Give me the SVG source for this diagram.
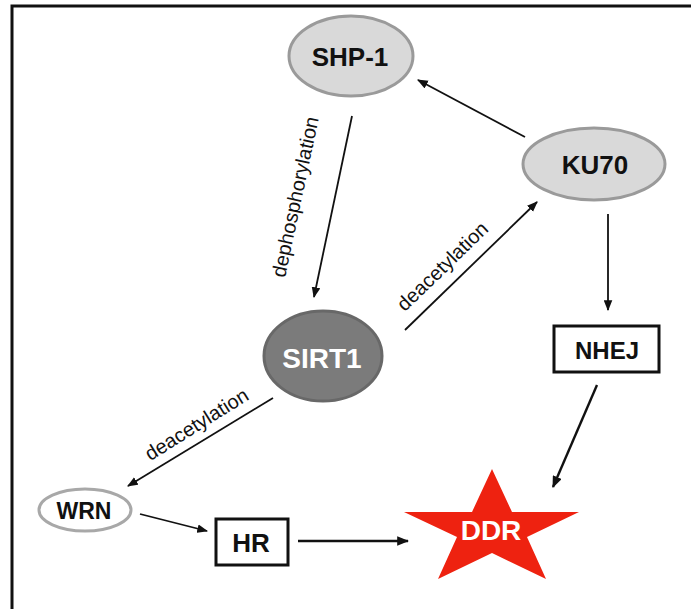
<svg xmlns="http://www.w3.org/2000/svg" width="691" height="609" viewBox="0 0 691 609">
<defs>
<style>
.lbl{font-family:"Liberation Sans",Arial,Helvetica,sans-serif;font-weight:bold;text-anchor:middle;dominant-baseline:central}
.edge{font-family:"Liberation Sans",Arial,Helvetica,sans-serif;font-size:20px;fill:#111;text-anchor:middle}
.conn{stroke:#111;stroke-width:1.8;fill:none;marker-end:url(#ah)}
.conn2{stroke:#111;stroke-width:2.4;fill:none;marker-end:url(#ah2)}
.box{fill:#fff;stroke:#111;stroke-width:3}
.oval{fill:#d9d9d9;stroke:#9a9a9a;stroke-width:3}
</style>
<marker id="ah" viewBox="0 0 10 8" refX="9" refY="4" markerWidth="6" markerHeight="5" orient="auto" markerUnits="strokeWidth">
<path d="M0,0 L10,4 L0,8 Z" fill="#111"/>
</marker>
<marker id="ah2" viewBox="0 0 10 8" refX="9" refY="4" markerWidth="5" markerHeight="4" orient="auto" markerUnits="strokeWidth">
<path d="M0,0 L10,4 L0,8 Z" fill="#111"/>
</marker>
</defs>
<rect width="691" height="609" fill="#fff"/>
<path d="M12,609 L12,6 L691,6" fill="none" stroke="#111" stroke-width="3"/>

<g id="connectors">
<line class="conn" x1="525" y1="137" x2="418" y2="80"/>
<line class="conn" x1="352" y1="116" x2="314" y2="297"/>
<line class="conn" x1="405" y1="330" x2="537" y2="202"/>
<line class="conn" x1="608" y1="214" x2="608" y2="310"/>
<line class="conn2" x1="597" y1="385" x2="553" y2="487"/>
<line class="conn" x1="273" y1="398" x2="128" y2="486"/>
<line class="conn" x1="140" y1="514" x2="207" y2="531"/>
<line class="conn2" x1="298" y1="541" x2="408" y2="541"/>
<text class="edge" transform="translate(296,197) rotate(-78)" dy="6">dephosphorylation</text>
<text class="edge" transform="translate(443,267) rotate(-44)" dy="6">deacetylation</text>
<text class="edge" transform="translate(197,425) rotate(-32)" dy="6">deacetylation</text>
</g>

<g id="SHP-1">
<ellipse class="oval" cx="351" cy="56" rx="62" ry="40"/>
<text class="lbl" x="350" y="57" font-size="26" fill="#111">SHP-1</text>
</g>
<g id="KU70">
<ellipse class="oval" cx="594" cy="164" rx="71" ry="36"/>
<text class="lbl" x="595" y="165" font-size="26" fill="#111">KU70</text>
</g>
<g id="SIRT1">
<ellipse cx="323" cy="356" rx="59" ry="45" fill="#7b7b7b" stroke="#686868" stroke-width="3"/>
<text class="lbl" x="322" y="358" font-size="28" fill="#fff">SIRT1</text>
</g>
<g id="WRN">
<ellipse cx="85" cy="510" rx="46" ry="21" fill="#fff" stroke="#a8a8a8" stroke-width="3"/>
<text class="lbl" x="84" y="511" font-size="23" fill="#111">WRN</text>
</g>
<g id="HR">
<rect class="box" x="216" y="519" width="72" height="46"/>
<text class="lbl" x="251" y="543" font-size="26" fill="#111">HR</text>
</g>
<g id="NHEJ">
<rect class="box" x="554" y="326" width="105" height="46"/>
<text class="lbl" x="607" y="350" font-size="24" fill="#111">NHEJ</text>
</g>
<g id="DDR">
<polygon points="492,469 512,512 579,512 527,537 546,579 492,553 438,579 457,537 404,512 472,512" fill="#ee2210"/>
<text class="lbl" x="491" y="530" font-size="28" fill="#fff">DDR</text>
</g>
</svg>
